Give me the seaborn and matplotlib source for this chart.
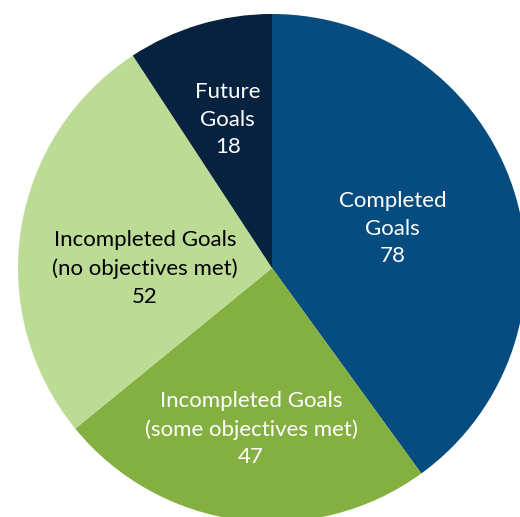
import numpy as np
import matplotlib
matplotlib.use("Agg")
import matplotlib.pyplot as plt
import seaborn as sns

categories = ["Completed\nGoals", "Incompleted Goals\n(some objectives met)",
              "Incompleted Goals\n(no objectives met)", "Future\nGoals"]
values = [78, 47, 52, 18]
colors = ["#064C7F", "#84AF41", "#BCDC96", "#06223F"]
text_colors = ["white", "white", "black", "white"]
# label placement: fraction of radius and angular nudge (degrees) from wedge middle
label_radius = [0.50, 0.64, 0.50, 0.61]
label_nudge = [0.0, 0.0, 9.0, 0.0]

sns.set_theme(style="white")
plt.rcParams["font.family"] = ["Lato", "DejaVu Sans"]

fig = plt.figure(figsize=(5.2, 5.17), dpi=100)
ax = fig.add_axes([0, 0, 1, 1])

wedges, _ = ax.pie(values, colors=colors, startangle=90, counterclock=False,
                   radius=1.0, wedgeprops=dict(linewidth=0))

for w, cat, val, tc, r, dn in zip(wedges, categories, values, text_colors,
                                  label_radius, label_nudge):
    mid = np.deg2rad((w.theta1 + w.theta2) / 2 + dn)
    ax.text(r * np.cos(mid), r * np.sin(mid), f"{cat}\n{val}", ha="center", va="center",
            color=tc, fontsize=16, linespacing=1.48)

ax.set_aspect("auto")
ax.set_xlim(-272 / 254, (520 - 272) / 254)
ax.set_ylim(-(517 - 268) / 254, 268 / 254)
ax.axis("off")

fig.savefig("out.png", dpi=100, facecolor="white")
